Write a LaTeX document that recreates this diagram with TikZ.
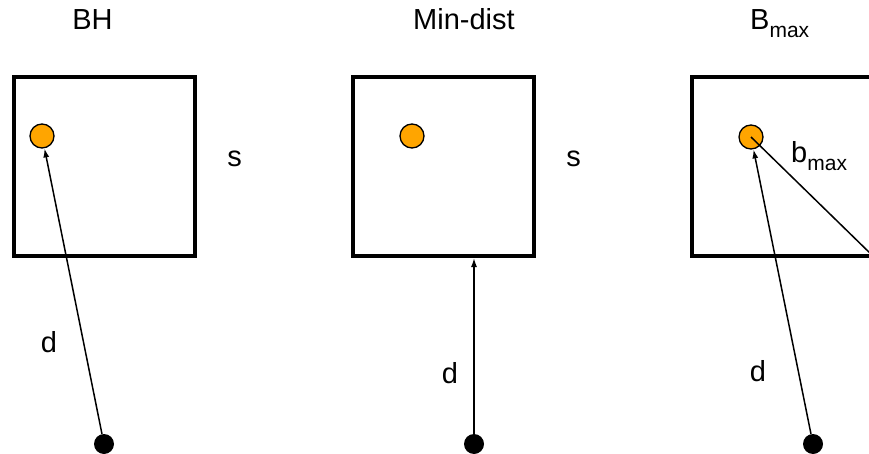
\documentclass[tikz,border=0pt]{standalone}
\usepackage{fontspec}
\setmainfont{Liberation Sans}
\usetikzlibrary{arrows.meta}
\newcommand{\subtxt}[1]{\raisebox{-8pt}{\fontsize{21}{21}\selectfont #1}}
\begin{document}
\begin{tikzpicture}[x=1pt,y=-1pt,
  region/.style={draw, line width=4pt, minimum width=181pt, minimum height=179pt, inner sep=0pt},
  hole/.style={circle, draw, line width=1.3pt, fill={rgb,255:red,255;green,165;blue,0}, minimum size=24pt, inner sep=0pt},
  probe/.style={circle, fill=black, minimum size=20pt, inner sep=0pt},
  lbl/.style={anchor=base, inner sep=0pt, font=\fontsize{29}{34}\selectfont},
  ray/.style={line width=1.5pt, -{Latex[length=9pt,width=6pt]}},
  plain/.style={line width=1.5pt}
]
\useasboundingbox (0,0) rectangle (869,454);
\clip (0,0) rectangle (869,454);

% titles
\node[lbl] (t1) at (92.5,30) {BH};
\node[lbl] (t2) at (464,30) {Min-dist};
\node[lbl, anchor=base west] (t3) at (750,30) {B\subtxt{max}};

% boxes
\node[region] (b1) at (104,166.5) {};
\node[region] (b2) at (443.5,166.5) {};
\node[region] (b3) at (782.5,166.5) {};

% side labels
\node[lbl] (s1) at (234.5,167) {s};
\node[lbl] (s2) at (573.5,167) {s};

% holes
\node[hole] (c1) at (42,136) {};
\node[hole] (c2) at (412,136) {};
\node[hole] (c3) at (751,137) {};

% probes
\node[probe] (p1) at (104,444) {};
\node[probe] (p2) at (474,444) {};
\node[probe] (p3) at (813,444) {};

% distances
\draw[ray] (p1) -- (c1);
\draw[ray] (p2) -- (p2 |- b2.south);
\draw[ray] (p3) -- (c3);
\draw[plain] (c3.center) -- (b3.south east);

\node[lbl] (d1) at (49,352) {d};
\node[lbl] (d2) at (450,383) {d};
\node[lbl] (d3) at (758,381) {d};
\node[lbl, anchor=base west] (bm) at (791,163) {b\subtxt{max}};
\end{tikzpicture}
\end{document}
